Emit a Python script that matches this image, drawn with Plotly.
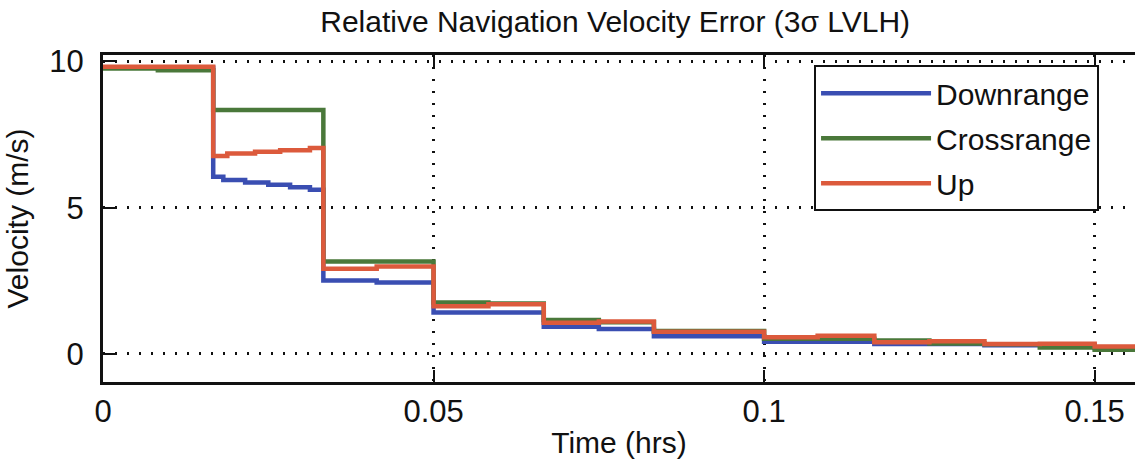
import plotly.graph_objects as go

# Relative navigation velocity error, 3-sigma, LVLH frame.
# Step histories: each value holds until the next time stamp (hours).
t_downrange = [0.0, 0.01667, 0.0182, 0.0215, 0.0250, 0.0283, 0.0313, 0.03333, 0.0414,
               0.05, 0.06667, 0.075, 0.08333, 0.1, 0.11667, 0.13333, 0.15, 0.1561]
v_downrange = [9.78, 6.06, 5.95, 5.86, 5.78, 5.70, 5.61, 2.51, 2.44,
               1.42, 0.93, 0.85, 0.60, 0.42, 0.34, 0.30, 0.20, 0.20]

t_crossrange = [0.0, 0.0083, 0.01667, 0.03333, 0.05, 0.0583, 0.06667, 0.075, 0.08333,
                0.1, 0.11667, 0.125, 0.13333, 0.1417, 0.15, 0.1561]
v_crossrange = [9.76, 9.70, 8.34, 3.16, 1.76, 1.72, 1.16, 1.08, 0.78,
                0.52, 0.46, 0.36, 0.33, 0.22, 0.14, 0.14]

t_up = [0.0, 0.01667, 0.0188, 0.0230, 0.0268, 0.0313, 0.03333, 0.0414, 0.05, 0.0583,
        0.06667, 0.075, 0.08333, 0.1, 0.1081, 0.11667, 0.125, 0.13333, 0.1417, 0.15, 0.1561]
v_up = [9.82, 6.77, 6.85, 6.91, 6.96, 7.04, 2.91, 2.99, 1.63, 1.70,
        1.07, 1.11, 0.76, 0.57, 0.62, 0.40, 0.43, 0.34, 0.35, 0.25, 0.25]

series_names = ["Downrange", "Crossrange", "Up"]
series_colors = ["#3a4eb2", "#4a783a", "#dc5a3c"]

x_ticks = [0, 0.05, 0.1, 0.15]
x_tick_text = ["0", "0.05", "0.1", "0.15"]
y_ticks = [0, 5, 10]

FONT = "Liberation Sans, Arial, Helvetica, sans-serif"
INK = "#111111"

fig = go.Figure()
for name, color, t, v in zip(series_names, series_colors,
                             [t_downrange, t_crossrange, t_up],
                             [v_downrange, v_crossrange, v_up]):
    fig.add_trace(go.Scatter(
        x=t, y=v, name=name, legendgroup=name, mode="lines",
        line=dict(color=color, width=4.5, shape="hv"),
    ))

fig.update_layout(
    width=1135, height=463,
    margin=dict(l=103, r=0, t=55, b=81),
    paper_bgcolor="white", plot_bgcolor="white",
    font=dict(family=FONT, size=31, color=INK),
    title=dict(
        text="Relative Navigation Velocity Error (3σ LVLH)",
        x=0.542, xanchor="center", y=0.953, yanchor="middle",
        font=dict(size=30, color=INK),
    ),
    showlegend=True,
    legend=dict(
        x=0.689, y=0.969, xanchor="left", yanchor="top",
        bgcolor="white", bordercolor=INK, borderwidth=2,
        font=dict(size=30, color=INK),
        itemwidth=110, tracegroupgap=3,
    ),
)

fig.update_xaxes(
    range=[0, 0.1561],
    tickvals=x_ticks, ticktext=x_tick_text,
    ticks="inside", ticklen=12, tickwidth=2, tickcolor=INK,
    showline=True, linecolor=INK, linewidth=3, mirror="ticks",
    showgrid=True, gridcolor=INK, gridwidth=2.5, griddash="2px,10px",
    zeroline=False,
    ticklabelstandoff=0,
    title=dict(text="Time (hrs)", standoff=4, font=dict(size=30)),
)

fig.update_yaxes(
    range=[-0.96, 10.22],
    tickvals=y_ticks,
    ticks="inside", ticklen=12, tickwidth=2, tickcolor=INK,
    showline=True, linecolor=INK, linewidth=3,
    showgrid=True, gridcolor=INK, gridwidth=2.5, griddash="2px,10px",
    zeroline=False,
    ticklabelstandoff=10,
    title=dict(text="Velocity (m/s)", standoff=12, font=dict(size=30)),
)

# Right-hand tick marks sharing the velocity scale
fig.update_layout(yaxis2=dict(
    overlaying="y", side="right", matches="y", range=[-0.96, 10.22],
    tickvals=y_ticks, ticks="inside", ticklen=12, tickwidth=2, tickcolor=INK,
    showticklabels=False, showline=False, showgrid=False, zeroline=False,
))

fig.write_html("out.html")
